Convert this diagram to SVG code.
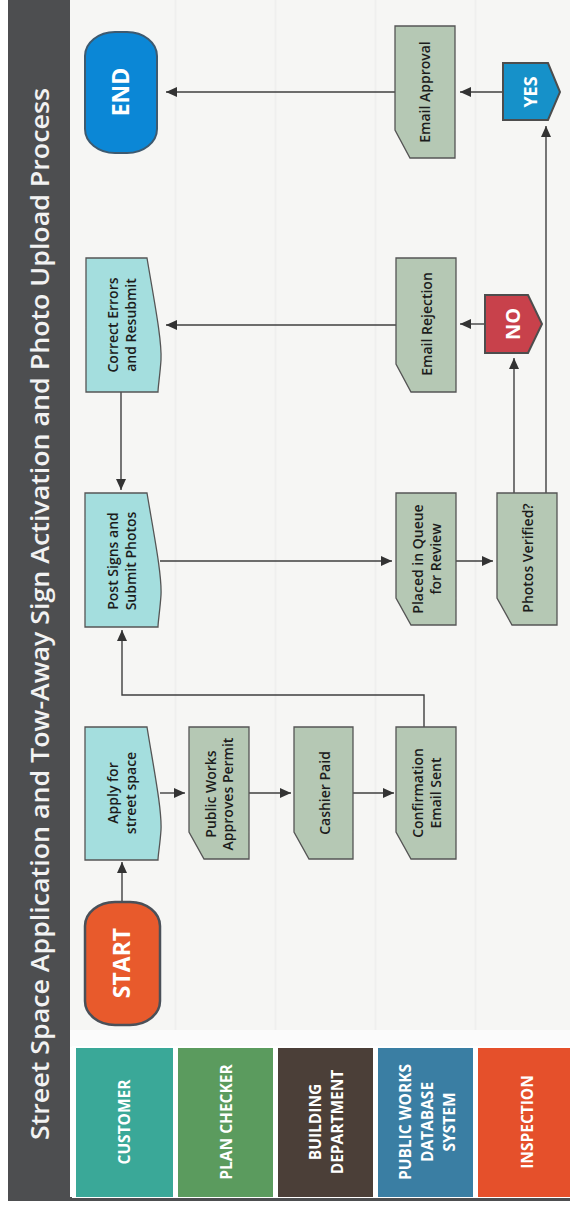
<svg xmlns="http://www.w3.org/2000/svg" width="570" height="1209" viewBox="0 0 570 1209">
<style>
.bg{fill:#f6f6f4}
.lane{stroke:#efefee;stroke-width:2}
.title{font-family:"Open Sans","DejaVu Sans",sans-serif;font-weight:600;font-size:26px;fill:#f2f2f2}
.hd{font-family:"Open Sans","DejaVu Sans",sans-serif;font-weight:bold;font-size:15.5px;fill:#ffffff;text-anchor:middle}
.lbl{font-family:"Open Sans","DejaVu Sans",sans-serif;font-weight:600;font-size:14px;fill:#1c1c1c;text-anchor:middle}
.big{font-family:"Open Sans","DejaVu Sans",sans-serif;font-weight:bold;fill:#ffffff;text-anchor:middle}
.doc{fill:#a4dede;stroke:#555;stroke-width:1.3}
.proc{fill:#b5c8b4;stroke:#555;stroke-width:1.3}
.conn{fill:none;stroke:#3f3f3f;stroke-width:1.4;marker-end:url(#ah)}
</style>
<defs>
<marker id="ah" markerUnits="userSpaceOnUse" markerWidth="11" markerHeight="10" refX="11" refY="5" orient="auto">
<path d="M0,0 L11,5 L0,10 Z" fill="#333"/>
</marker>
</defs>
<rect x="0" y="0" width="570" height="1209" fill="#ffffff"/>
<rect class="bg" x="70" y="0" width="500" height="1047"/>
<g id="lanes">
<line class="lane" x1="175.5" y1="0" x2="175.5" y2="1030"/>
<line class="lane" x1="275.5" y1="0" x2="275.5" y2="1030"/>
<line class="lane" x1="375.5" y1="0" x2="375.5" y2="1030"/>
<line class="lane" x1="475.5" y1="0" x2="475.5" y2="1030"/>
<rect x="70" y="1030" width="500" height="17" fill="#fbfbfb"/>
</g>
<g id="title">
<rect x="8" y="0" width="62" height="1201" fill="#4d4e50"/>
<rect x="8" y="1197" width="562" height="4" fill="#4d4e50"/>
<text class="title" transform="translate(49,1140) rotate(-90)" x="0" y="0" textLength="1052" lengthAdjust="spacingAndGlyphs">Street Space Application and Tow-Away Sign Activation and Photo Upload Process</text>
</g>
<g id="headers">
<rect x="72" y="1046" width="498" height="152" fill="#ffffff"/>
<g id="h-customer"><rect x="76" y="1048" width="97" height="149" fill="#3aa898"/>
<text class="hd" transform="translate(124,1122) rotate(-90)"><tspan x="0" y="5.5">CUSTOMER</tspan></text></g>
<g id="h-plan"><rect x="178" y="1048" width="95" height="149" fill="#5b9b5e"/>
<text class="hd" transform="translate(226,1122) rotate(-90)"><tspan x="0" y="5.5">PLAN CHECKER</tspan></text></g>
<g id="h-building"><rect x="278" y="1048" width="95" height="149" fill="#4b3f38"/>
<text class="hd" transform="translate(326,1122) rotate(-90)"><tspan x="0" y="-5.5">BUILDING</tspan><tspan x="0" y="16.5">DEPARTMENT</tspan></text></g>
<g id="h-pw"><rect x="378" y="1048" width="95" height="149" fill="#3a7ea3"/>
<text class="hd" transform="translate(427,1122) rotate(-90)"><tspan x="0" y="-16.5">PUBLIC WORKS</tspan><tspan x="0" y="5.5">DATABASE</tspan><tspan x="0" y="27.5">SYSTEM</tspan></text></g>
<g id="h-inspection"><rect x="478" y="1048" width="92" height="149" fill="#e5502b"/>
<text class="hd" transform="translate(527,1122) rotate(-90)"><tspan x="0" y="5.5">INSPECTION</tspan></text></g>
</g>
<g id="connectors">
<path class="conn" d="M122,902 V862"/>
<path class="conn" d="M160,793 H185"/>
<path class="conn" d="M249,793 H291"/>
<path class="conn" d="M353,793 H394"/>
<path class="conn" d="M424,727 V695 H122 V630"/>
<path class="conn" d="M160,561 H392"/>
<path class="conn" d="M456,561 H493"/>
<path class="conn" d="M514,493 V358"/>
<path class="conn" d="M546,493 V126"/>
<path class="conn" d="M485,324 H460"/>
<path class="conn" d="M396,325 H166"/>
<path class="conn" d="M121,392 V490"/>
<path class="conn" d="M503,92 H460"/>
<path class="conn" d="M395,92 H166"/>
</g>
<g id="start">
<rect x="85" y="902" width="75" height="123" rx="30" ry="24" fill="#e85a2c" stroke="#4a5058" stroke-width="2.5"/>
<text class="big" font-size="23" transform="translate(122,963) rotate(-90)" x="0" y="8">START</text>
</g>
<g id="apply">
<path class="doc" d="M85,727 H147 C154,770 162,810 161,830 C160,845 158,855 158,860 H85 Z"/>
<text class="lbl" transform="translate(122,793) rotate(-90)"><tspan x="0" y="-4">Apply for</tspan><tspan x="0" y="14">street space</tspan></text>
</g>
<g id="pw-approves">
<path class="proc" d="M189,727 H249 V859 H204 L189,832 Z"/>
<text class="lbl" transform="translate(220,794) rotate(-90)"><tspan x="0" y="-4">Public Works</tspan><tspan x="0" y="13">Approves Permit</tspan></text>
</g>
<g id="cashier">
<path class="proc" d="M294,727 H353 V859 H309 L294,832 Z"/>
<text class="lbl" transform="translate(325,793) rotate(-90)"><tspan x="0" y="5">Cashier Paid</tspan></text>
</g>
<g id="confirmation">
<path class="proc" d="M396,727 H456 V859 H411 L396,832 Z"/>
<text class="lbl" transform="translate(427,793) rotate(-90)"><tspan x="0" y="-4">Confirmation</tspan><tspan x="0" y="14">Email Sent</tspan></text>
</g>
<g id="post-signs">
<path class="doc" d="M85,493 H147 C154,535 162,575 161,595 C160,610 158,622 158,627 H85 Z"/>
<text class="lbl" transform="translate(122,561) rotate(-90)"><tspan x="0" y="-4">Post Signs and</tspan><tspan x="0" y="14">Submit Photos</tspan></text>
</g>
<g id="queue">
<path class="proc" d="M396,493 H456 V625 H411 L396,598 Z"/>
<text class="lbl" transform="translate(427,559) rotate(-90)"><tspan x="0" y="-4">Placed in Queue</tspan><tspan x="0" y="14">for Review</tspan></text>
</g>
<g id="verified">
<path class="proc" d="M497,493 H557 V625 H512 L497,598 Z"/>
<text class="lbl" transform="translate(528,558) rotate(-90)"><tspan x="0" y="5">Photos Verified?</tspan></text>
</g>
<g id="correct">
<path class="doc" d="M86,258 H147 C154,300 162,340 161,360 C160,375 158,387 158,392 H86 Z"/>
<text class="lbl" transform="translate(122,325) rotate(-90)"><tspan x="0" y="-4">Correct Errors</tspan><tspan x="0" y="14">and Resubmit</tspan></text>
</g>
<g id="rejection">
<path class="proc" d="M396,258 H456 V392 H411 L396,364 Z"/>
<text class="lbl" transform="translate(427,324) rotate(-90)"><tspan x="0" y="5">Email Rejection</tspan></text>
</g>
<g id="no">
<path d="M485,295 H528 L542,324 L528,353 H485 Z" fill="#c8414b" stroke="#4d4d4d" stroke-width="2"/>
<text class="big" font-size="20" transform="translate(513,324) rotate(-90)" x="0" y="7">NO</text>
</g>
<g id="end">
<rect x="85" y="32" width="72" height="121" rx="30" ry="24" fill="#0b87d6" stroke="#3d5a70" stroke-width="2"/>
<text class="big" font-size="23" transform="translate(121,92) rotate(-90)" x="0" y="8">END</text>
</g>
<g id="approval">
<path class="proc" d="M395,26 H455 V158 H410 L395,130 Z"/>
<text class="lbl" transform="translate(425,92) rotate(-90)"><tspan x="0" y="5">Email Approval</tspan></text>
</g>
<g id="yes">
<path d="M503,63 H548 L560,92 L548,120 H503 Z" fill="#1691c9" stroke="#4d4d4d" stroke-width="2"/>
<text class="big" font-size="18" transform="translate(530,92) rotate(-90)" x="0" y="6.5">YES</text>
</g>
</svg>
